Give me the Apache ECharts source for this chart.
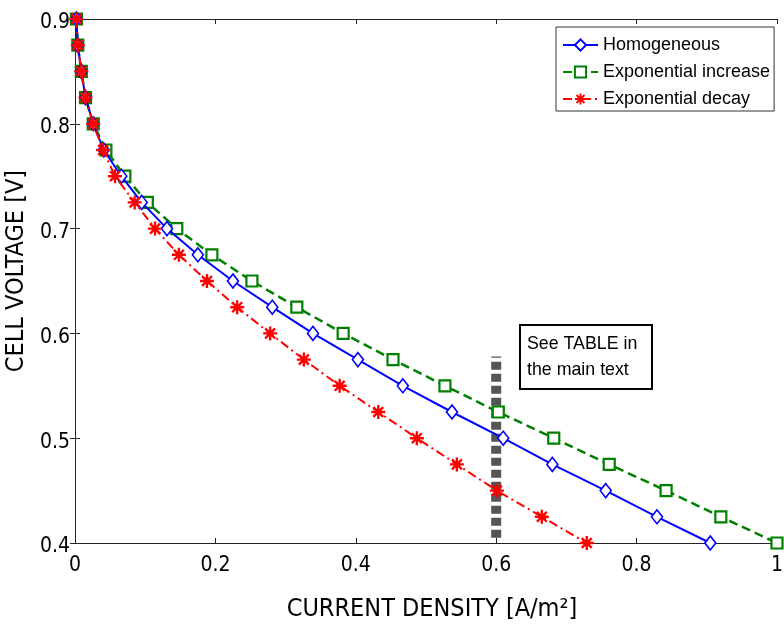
<!DOCTYPE html>
<html>
<head>
<meta charset="utf-8">
<script src="https://cdn.jsdelivr.net/npm/echarts@6/dist/echarts.min.js"></script>
<style>html,body{margin:0;padding:0;background:#fff}#chart{width:784px;height:624px}</style>
</head>
<body>
<div id="chart"></div>
<script>
// Data
const voltage = [0.9,0.875,0.85,0.825,0.8,0.775,0.75,0.725,0.7,0.675,0.65,0.625,0.6,0.575,0.55,0.525,0.5,0.475,0.45,0.425,0.4];
const homogeneous = [0.002,0.004,0.009,0.015,0.026,0.041,0.066,0.095,0.131,0.175,0.225,0.281,0.339,0.403,0.467,0.537,0.610,0.680,0.756,0.829,0.905];
const expIncrease = [0.002,0.004,0.009,0.015,0.026,0.044,0.071,0.103,0.145,0.195,0.252,0.316,0.382,0.453,0.527,0.603,0.682,0.761,0.842,0.920,1.000];
const expDecay    = [0.002,0.004,0.009,0.015,0.026,0.040,0.057,0.085,0.114,0.148,0.188,0.231,0.278,0.326,0.377,0.432,0.487,0.544,0.601,0.665,0.729];
const seriesNames = ['Homogeneous','Exponential increase','Exponential decay'];
const xTicks = [0,0.2,0.4,0.6,0.8,1];
const yTicks = [0.4,0.5,0.6,0.7,0.8,0.9];
const markerX = [0.6,0.6];
const markerY = [0.405,0.578];
const noteLines = ['See TABLE in','the main text'];

const pair = (xs) => xs.map((x,i) => [x, voltage[i]]);
const FONT = "'DejaVu Sans Condensed','DejaVu Sans',sans-serif";
const FONT2 = "'Liberation Sans',Arial,sans-serif";
const asterisk = 'path://M-1,-0.17L1,-0.17L1,0.17L-1,0.17Z M-0.17,-1L0.17,-1L0.17,1L-0.17,1Z M-0.587,-0.827L0.827,0.587L0.587,0.827L-0.827,-0.587Z M0.587,-0.827L0.827,-0.587L-0.587,0.827L-0.827,0.587Z';

const chart = echarts.init(document.getElementById('chart'), null, {renderer:'canvas'});
const axisCommon = {
  axisLine:{show:true,lineStyle:{color:'#222',width:1}},
  axisTick:{show:true,inside:true,length:5,lineStyle:{color:'#222'}},
  splitLine:{show:false}
};
chart.setOption({
  animation:false,
  backgroundColor:'#fff',
  grid:{left:75,right:7,top:19,bottom:81,containLabel:false,outerBoundsMode:'none'},
  legend:{
    data:seriesNames,
    orient:'vertical',
    left:556, top:27,
    padding:[9,4,3,6],
    itemGap:9,
    itemWidth:35,
    itemHeight:14,
    borderColor:'#333', borderWidth:1,
    backgroundColor:'#fff',
    textStyle:{fontFamily:FONT2,fontSize:18,lineHeight:18,color:'#000'}
  },
  xAxis:[
    Object.assign({type:'value',min:0,max:1,interval:0.2,position:'bottom',
      axisLabel:{fontFamily:FONT,fontSize:21,color:'#000',margin:12,
        formatter:(v)=> xTicks.includes(+v.toFixed(1)) ? String(+v.toFixed(1)) : ''},
      name:'CURRENT DENSITY [A/m²]',nameLocation:'middle',nameGap:54,
      nameTextStyle:{fontFamily:FONT,fontSize:25,color:'#000',padding:[0,0,0,12]}},axisCommon),
    Object.assign({type:'value',min:0,max:1,interval:0.2,position:'top',axisLabel:{show:false}},axisCommon)
  ],
  yAxis:[
    Object.assign({type:'value',min:0.4,max:0.9,interval:0.1,position:'left',
      axisLabel:{fontFamily:FONT,fontSize:21,color:'#000',margin:5,verticalAlign:'top',lineHeight:8,
        formatter:(v)=> yTicks.includes(+v.toFixed(1)) ? v.toFixed(1) : ''},
      name:'CELL VOLTAGE [V]',nameLocation:'middle',nameGap:39,nameRotate:90,
      nameTextStyle:{fontFamily:FONT,fontSize:25,color:'#000',padding:[0,0,0,20]}},axisCommon),
    Object.assign({type:'value',min:0.4,max:0.9,interval:0.1,position:'right',axisLabel:{show:false}},axisCommon)
  ],
  series:[
    {
      name:'gray marker', type:'line', data:markerX.map((x,i)=>[x,markerY[i]]),
      symbol:'none', silent:true, z:1,
      lineStyle:{color:'#555',width:10,type:[8,4],cap:'butt'}
    },
    {
      name:seriesNames[0], type:'line', data:pair(homogeneous), clip:false, z:3,
      symbol:'diamond', symbolSize:[11,14],
      itemStyle:{color:'#fff',borderColor:'#0000ff',borderWidth:1.6},
      lineStyle:{color:'#0000ff',width:2,type:'solid'}
    },
    {
      name:seriesNames[1], type:'line', data:pair(expIncrease), clip:false, z:2,
      symbol:'rect', symbolSize:11,
      itemStyle:{color:'#fff',borderColor:'#008000',borderWidth:2.2},
      lineStyle:{color:'#008000',width:2.5,type:[9,5]}
    },
    {
      name:seriesNames[2], type:'line', data:pair(expDecay), clip:false, z:4,
      symbol:asterisk, symbolSize:14,
      itemStyle:{color:'#ff0000',borderWidth:0},
      lineStyle:{color:'#ff0000',width:2,type:[9,4,2,4]}
    }
  ],
  graphic:[
    {type:'rect',left:519,top:324,shape:{width:132,height:64},
     style:{fill:'#fff',stroke:'#000',lineWidth:2},z:100},
    {type:'text',left:527,top:331,z:101,
     style:{text:noteLines.join('\n'),font:"17.8px 'Liberation Sans',Arial,sans-serif",fill:'#000',lineHeight:26}}
  ]
});
</script>
</body>
</html>
